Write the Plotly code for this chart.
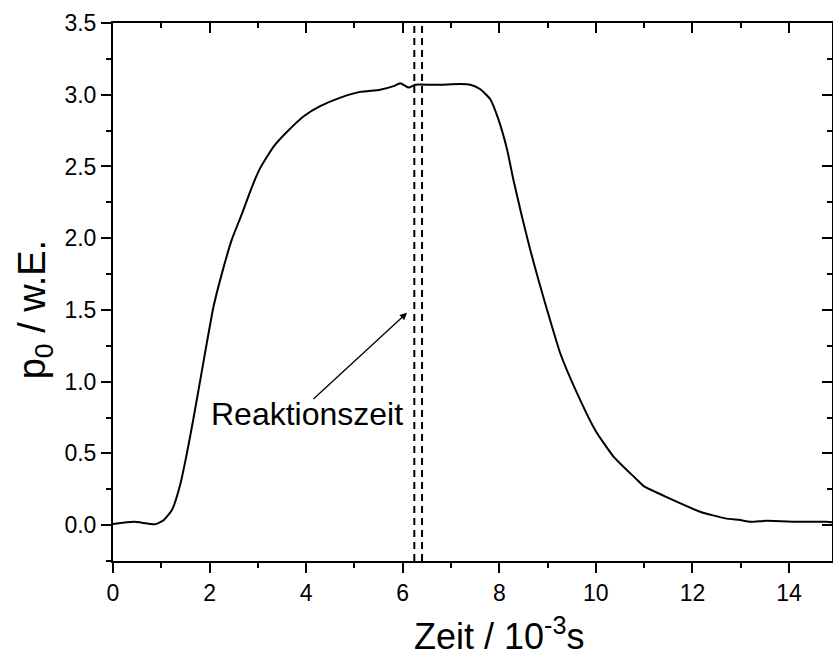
import plotly.graph_objects as go

# Data
time_ms = [0.0, 0.43, 0.88, 1.05, 1.22, 1.39, 1.53, 1.67, 1.88, 2.08, 2.26, 2.46, 2.67, 2.88,
           3.05, 3.33, 3.60, 3.95, 4.29, 4.71, 5.12, 5.53, 5.81, 5.95, 6.12, 6.26, 6.57, 6.78,
           7.19, 7.40, 7.60, 7.81, 7.98, 8.16, 8.29, 8.47, 8.64, 8.81, 8.99, 9.26, 9.61, 9.99,
           10.36, 10.81, 11.0, 11.5, 12.16, 12.68, 12.99, 13.2, 13.54, 14.23, 14.78, 14.89]
p0 = [0.007, 0.023, 0.007, 0.035, 0.105, 0.28, 0.50, 0.75, 1.15, 1.52, 1.76, 1.99, 2.17, 2.36,
      2.49, 2.64, 2.74, 2.85, 2.92, 2.98, 3.02, 3.035, 3.06, 3.08, 3.05, 3.07, 3.07, 3.07,
      3.075, 3.07, 3.04, 2.97, 2.83, 2.62, 2.41, 2.15, 1.92, 1.71, 1.50, 1.20, 0.92, 0.66,
      0.48, 0.33, 0.27, 0.19, 0.093, 0.047, 0.035, 0.023, 0.03, 0.023, 0.023, 0.02]

reaction_lines = [6.24, 6.40]
arrow_tail = (4.12, 0.87)
arrow_head = (6.09, 1.48)
label_pos = (4.01, 0.775)
label_text = "Reaktionszeit"

x_title = "Zeit / 10<sup>-3</sup>s"
y_title = "p<sub>0</sub> / w.E."

x_range = [0, 14.89]
y_range = [-0.25, 3.5]

FONT = "Liberation Sans, Arial, sans-serif"

fig = go.Figure()
fig.add_trace(go.Scatter(x=time_ms, y=p0, mode="lines",
                         line=dict(color="black", width=2, shape="spline", smoothing=0.5),
                         showlegend=False, hoverinfo="skip"))
# invisible trace to carry the mirrored (top/right) axes
fig.add_trace(go.Scatter(x=time_ms, y=p0, mode="lines", xaxis="x2", yaxis="y2",
                         line=dict(color="rgba(0,0,0,0)", width=0), showlegend=False,
                         hoverinfo="skip"))

for xv in reaction_lines:
    fig.add_shape(type="line", x0=xv, x1=xv, y0=0, y1=1, xref="x", yref="y domain",
                  line=dict(color="black", width=2, dash="7px,5px"))

fig.add_annotation(x=arrow_head[0], y=arrow_head[1], ax=arrow_tail[0], ay=arrow_tail[1],
                   xref="x", yref="y", axref="x", ayref="y", text="", showarrow=True,
                   arrowhead=2, arrowsize=1.1, arrowwidth=1.3, arrowcolor="black")
fig.add_annotation(x=label_pos[0], y=label_pos[1], xref="x", yref="y", text=label_text,
                   showarrow=False, font=dict(family=FONT, size=32, color="black"))

# axis titles (positioned as in the reference, which is cropped on the right)
fig.add_annotation(x=8.0, y=-0.136, xref="x", yref="paper", text=x_title, showarrow=False,
                   xanchor="center", yanchor="middle",
                   font=dict(family=FONT, size=36, color="black"))
fig.add_annotation(x=-0.108, y=1.50, xref="paper", yref="y", text=y_title, showarrow=False,
                   xanchor="center", yanchor="middle", textangle=-90,
                   font=dict(family=FONT, size=38, color="black"))

common_axis = dict(showline=True, linecolor="black", linewidth=2, showgrid=False,
                   zeroline=False, tickcolor="black", tickwidth=2)

fig.update_layout(
    width=833, height=658,
    margin=dict(l=113, r=1, t=23, b=97),
    paper_bgcolor="white", plot_bgcolor="white",
    font=dict(family=FONT, color="black", size=23),
    xaxis=dict(range=x_range, dtick=2, tick0=0, ticks="outside", ticklen=10,
               tickfont=dict(size=23, family=FONT),
               minor=dict(dtick=1, tick0=0, ticks="outside", ticklen=5, tickwidth=2,
                          tickcolor="black"),
               **common_axis),
    yaxis=dict(range=y_range, dtick=0.5, tick0=0, ticks="outside", ticklen=10,
               tickformat=".1f", tickfont=dict(size=23, family=FONT),
               minor=dict(dtick=0.25, tick0=0, ticks="outside", ticklen=5, tickwidth=2,
                          tickcolor="black"),
               **common_axis),
    xaxis2=dict(range=x_range, overlaying="x", side="top", anchor="y", dtick=2, tick0=0,
                ticks="inside", ticklen=10, showticklabels=False,
                minor=dict(dtick=1, tick0=0, ticks="inside", ticklen=5, tickwidth=2,
                           tickcolor="black"),
                **common_axis),
    yaxis2=dict(range=y_range, overlaying="y", side="right", anchor="x", dtick=0.5, tick0=0,
                ticks="inside", ticklen=10, showticklabels=False,
                minor=dict(dtick=0.25, tick0=0, ticks="inside", ticklen=5, tickwidth=2,
                           tickcolor="black"),
                **common_axis),
)

fig.write_html("out.html")
